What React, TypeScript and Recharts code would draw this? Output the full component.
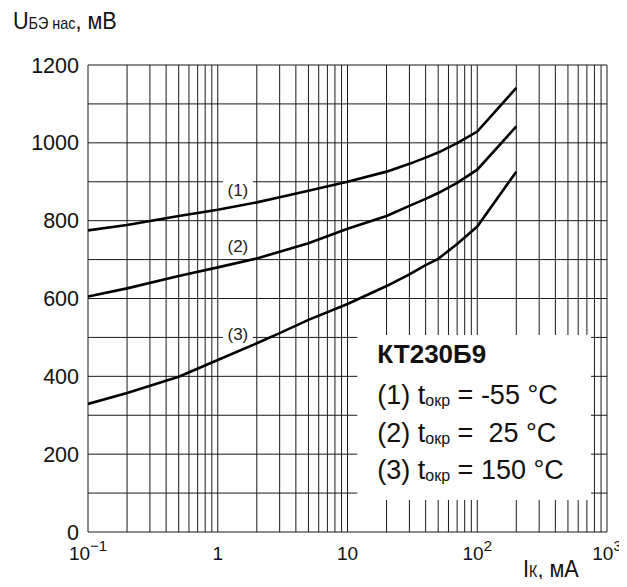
import React from 'react';
import { LineChart, Line, XAxis, YAxis, CartesianGrid, ReferenceArea, ReferenceDot } from 'recharts';

// Collector current, mA
const currents = [0.1, 0.2, 0.5, 1, 2, 3, 5, 10, 20, 30, 40, 50, 70, 100, 200];
// U_BE sat, mV for three ambient temperatures
const curve1 = [775, 789, 812, 828, 847, 860, 877, 900, 926, 946, 962, 975, 999, 1029, 1141];
const curve2 = [605, 626, 658, 680, 703, 720, 742, 779, 812, 838, 856, 871, 897, 931, 1042];
const curve3 = [329, 357, 399, 442, 485, 511, 545, 586, 632, 662, 686, 702, 740, 785, 926];

const xTicks = [0.1, 1, 10, 100, 1000];
const xTickBase = ['10', '1', '10', '10', '10'];
const xTickExp = ['−1', '', '', '2', '3'];
const yTicks = [0, 200, 400, 600, 800, 1000, 1200];
const yGrid = [0, 100, 200, 300, 400, 500, 600, 700, 800, 900, 1000, 1100, 1200];
const decades = [0.1, 1, 10, 100];
const mantissas = [1, 2, 3, 4, 5, 6, 7, 8, 9];
const xGrid = [...decades.flatMap((d) => mantissas.map((m) => +(m * d).toPrecision(3))), 1000];
const X_DOMAIN = [0.1, 1000];
const Y_DOMAIN = [0, 1200];

const curveLabels = [
  { x: 1.43, y: 880, text: '(1)' },
  { x: 1.43, y: 735, text: '(2)' },
  { x: 1.43, y: 509, text: '(3)' },
];
const legendTitle = 'КТ230Б9';
const legendRows = [
  { pre: '(1) t', sub: 'окр', post: ' = -55 °C' },
  { pre: '(2) t', sub: 'окр', post: ' =  25 °C' },
  { pre: '(3) t', sub: 'окр', post: ' = 150 °C' },
];
const legendBox = { x1: 11.9, x2: 753, y1: 82, y2: 506 };

const data = currents.map((c, i) => ({ x: c, a: curve1[i], b: curve2[i], c: curve3[i] }));

const SANS = "'Liberation Sans', Arial, sans-serif";

const XTick = (props: any) => {
  const { x, y, payload } = props;
  const i = xTicks.indexOf(payload.value);
  return (
    <text x={x} y={y + 26} textAnchor="middle" fontFamily={SANS} fontSize={19} fill="#111">
      <tspan>{xTickBase[i]}</tspan>
      {xTickExp[i] ? <tspan dy={-9} fontSize={15}>{xTickExp[i]}</tspan> : null}
    </text>
  );
};

const YTick = (props: any) => {
  const { x, y, payload } = props;
  return (
    <text x={x - 7} y={y + 7.5} textAnchor="end" fontFamily={SANS} fontSize={21.5} fill="#111">
      {payload.value}
    </text>
  );
};

const CurveLabel = (text: string) => (props: any) => {
  const vb = props.viewBox || {};
  const cx = vb.cx ?? vb.x;
  const cy = vb.cy ?? vb.y;
  return (
    <g>
      <rect x={cx - 15} y={cy - 10} width={30} height={20} fill="#fff" />
      <text x={cx} y={cy + 6} textAnchor="middle" fontFamily={SANS} fontSize={17} fill="#222">
        {text}
      </text>
    </g>
  );
};

const LegendContent = (props: any) => {
  const { x, y } = props.viewBox;
  return (
    <g fontFamily={SANS} fill="#111">
      <text x={x + 20} y={y + 28} fontSize={26} fontWeight="bold">{legendTitle}</text>
      {legendRows.map((r, i) => (
        <text key={i} x={x + 20} y={y + 69 + i * 37.5} fontSize={27} style={{ whiteSpace: 'pre' }}>
          <tspan>{r.pre}</tspan>
          <tspan fontSize={16} dy={2}>{r.sub}</tspan>
          <tspan dy={-2}>{r.post}</tspan>
        </text>
      ))}
    </g>
  );
};

const lg = Math.log10;
const vGen = ({ offset }: any) =>
  xGrid.map((v) => offset.left + (offset.width * (lg(v) - lg(X_DOMAIN[0]))) / (lg(X_DOMAIN[1]) - lg(X_DOMAIN[0])));
const hGen = ({ offset }: any) =>
  yGrid.map((v) => offset.top + offset.height * (1 - (v - Y_DOMAIN[0]) / (Y_DOMAIN[1] - Y_DOMAIN[0])));

export default function App() {
  return (
    <div style={{ position: 'relative', width: 619, height: 571 }}>
      <LineChart
        width={619}
        height={571}
        data={data}
        margin={{ top: 57, right: 20, left: 0, bottom: 0 }}
      >
        <CartesianGrid
          stroke="#1a1a1a"
          strokeWidth={1}
          verticalCoordinatesGenerator={vGen}
          horizontalCoordinatesGenerator={hGen}
        />
        <XAxis
          dataKey="x"
          type="number"
          scale="log"
          domain={X_DOMAIN}
          ticks={xTicks}
          allowDataOverflow
          axisLine={false}
          tickLine={false}
          tickSize={0}
          height={47}
          tick={<XTick />}
          interval={0}
        />
        <YAxis
          type="number"
          domain={Y_DOMAIN}
          ticks={yTicks}
          axisLine={false}
          tickLine={false}
          tickSize={0}
          width={80}
          tick={<YTick />}
          interval={0}
        />
        <Line dataKey="a" type="linear" stroke="#000" strokeWidth={2.6} dot={false} isAnimationActive={false} />
        <Line dataKey="b" type="linear" stroke="#000" strokeWidth={2.6} dot={false} isAnimationActive={false} />
        <Line dataKey="c" type="linear" stroke="#000" strokeWidth={2.6} dot={false} isAnimationActive={false} />
        {curveLabels.map((l) => (
          <ReferenceDot key={l.text} x={l.x} y={l.y} r={0} fill="none" stroke="none" label={CurveLabel(l.text)} />
        ))}
        <ReferenceArea
          x1={legendBox.x1}
          x2={legendBox.x2}
          y1={legendBox.y1}
          y2={legendBox.y2}
          fill="#fff"
          fillOpacity={1}
          stroke="none"
          label={LegendContent}
        />
      </LineChart>
      <svg
        width={619}
        height={579}
        style={{ position: 'absolute', left: 0, top: 0, pointerEvents: 'none' }}
      >
        <text transform="translate(5,21) scale(0.9,1)" fontFamily={SANS} fontSize={24} fill="#111">
          <tspan>U</tspan>
          <tspan fontSize={16}>БЭ нас</tspan>
          <tspan>, мВ</tspan>
        </text>
        <text transform="translate(515,569) scale(0.9,1)" fontFamily={SANS} fontSize={24} fill="#111">
          <tspan>I</tspan>
          <tspan fontSize={16}>К</tspan>
          <tspan>, мА</tspan>
        </text>
      </svg>
    </div>
  );
}
